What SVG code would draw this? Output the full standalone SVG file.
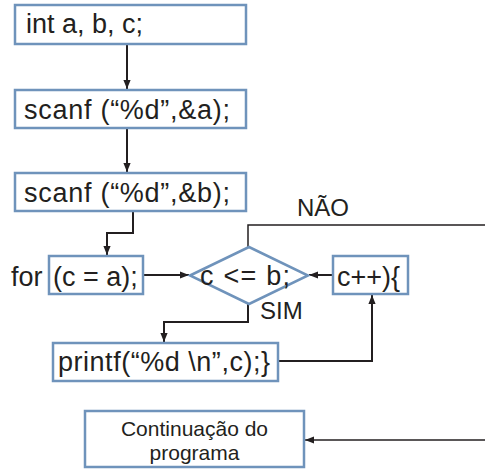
<svg xmlns="http://www.w3.org/2000/svg" width="485" height="469" viewBox="0 0 485 469">
<style>
.box{fill:#fff;stroke:#6f93bb;stroke-width:2.5}
.t{font-family:"Liberation Sans",Arial,sans-serif;fill:#231f20}
.big{font-size:27px}
.lbl{font-size:24px}
.sm{font-size:21px}
.c{fill:none;stroke:#231f20;stroke-width:2}
.thin{fill:none;stroke:#231f20;stroke-width:1.5}
</style>
<defs>
<marker id="ah2" viewBox="0 0 10 10" refX="10" refY="5" markerWidth="9" markerHeight="9" markerUnits="userSpaceOnUse" orient="auto">
<path d="M0,1 L10,5 L0,9 z" fill="#231f20"/>
</marker>
</defs>
<rect width="485" height="469" fill="#fff"/>
<g id="connectors">
<path class="c" d="M127,44 V89" marker-end="url(#ah2)"/>
<path class="c" d="M127,128 V172" marker-end="url(#ah2)"/>
<path class="c" d="M133,211 V233 H107 V255" marker-end="url(#ah2)"/>
<path class="c" d="M143,275 H189" marker-end="url(#ah2)"/>
<path class="c" d="M333,275 H309" marker-end="url(#ah2)"/>
<path class="thin" d="M248,247 V225 H485"/>
<path class="c" d="M248,304 V322 H164 V342" marker-end="url(#ah2)"/>
<path class="c" d="M278,361 H372 V295" marker-end="url(#ah2)"/>
<path class="thin" d="M485,440 H305" marker-end="url(#ah2)"/>
</g>
<g id="n1"><rect class="box" x="15" y="5" width="231" height="39"/><text class="t big" x="26" y="33">int a, b, c;</text></g>
<g id="n2"><rect class="box" x="15" y="90" width="231" height="38"/><text class="t big" x="24" y="119" textLength="206">scanf (“%d”,&amp;a);</text></g>
<g id="n3"><rect class="box" x="15" y="173" width="231" height="38"/><text class="t big" x="24" y="202" textLength="206">scanf (“%d”,&amp;b);</text></g>
<g id="n4"><text class="t big" x="11" y="286">for</text><rect class="box" x="49" y="256" width="94" height="38"/><text class="t big" x="53" y="286">(c = a);</text></g>
<g id="n5"><polygon class="box" points="190,275.5 249,247 308,275.5 249,304"/><text class="t big" x="200" y="285" textLength="90">c &lt;= b;</text></g>
<g id="n6"><rect class="box" x="333" y="256" width="75" height="38"/><text class="t big" x="337" y="286">c++){</text></g>
<g id="n7"><rect class="box" x="53" y="343" width="225" height="38"/><text class="t big" x="58" y="371" textLength="212">printf(“%d \n”,c);}</text></g>
<g id="n8"><rect class="box" x="85" y="411" width="219" height="56"/><text class="t sm" x="194.5" y="436" text-anchor="middle">Continuação do</text><text class="t sm" x="194.5" y="460" text-anchor="middle">programa</text></g>
<g id="labels"><text class="t lbl" x="297" y="216">NÃO</text><text class="t lbl" x="260" y="319">SIM</text></g>
</svg>
